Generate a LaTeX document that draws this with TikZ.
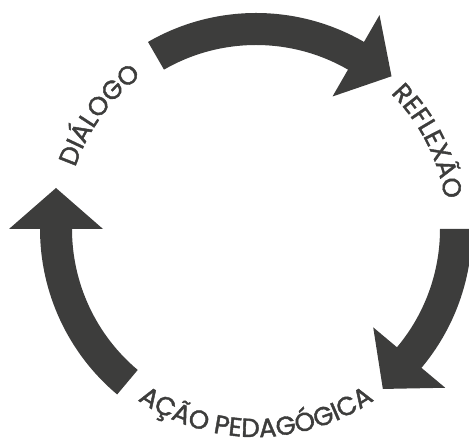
\documentclass[tikz,border=0pt]{standalone}
\usepackage{fontspec}
\newfontfamily\poppins{Poppins}[RawFeature={embolden=1.6}]
\usetikzlibrary{decorations.text,calc}
\definecolor{arrowgray}{RGB}{61,61,60}
\newcommand\lblfmt{\poppins\fontsize{26pt}{26pt}\selectfont\color{arrowgray}}
\tikzset{
  cyclearrow/.style={fill=arrowgray, draw=none},
  curvedlabel/.style={decorate, decoration={text along path, text align=center, text={#1}}}
}
\begin{document}
\begin{tikzpicture}[x=1pt,y=1pt]
\useasboundingbox (0,0) rectangle (469,443);
\clip (0,0) rectangle (469,443);
\coordinate (C) at (256,214);
% top arrow: DIALOGO -> REFLEXAO
\fill[cyclearrow] ($(C)+(120:216)$) arc[start angle=120,end angle=60,radius=216]
  -- ($(C)+(60:247)$) -- ($(C)+(60:200)+(-30:41)$) -- ($(C)+(60:153)$)
  -- ($(C)+(60:184)$) arc[start angle=60,end angle=120,radius=184] -- cycle;
% right arrow: REFLEXAO -> ACAO
\fill[cyclearrow] ($(C)+(0:216)$) arc[start angle=0,end angle=-40,radius=216]
  -- ($(C)+(-40:247)$) -- ($(C)+(-40:200)+(-130:41)$) -- ($(C)+(-40:153)$)
  -- ($(C)+(-40:184)$) arc[start angle=-40,end angle=0,radius=184] -- cycle;
% left arrow: ACAO -> DIALOGO
\fill[cyclearrow] ($(C)+(230:216)$) arc[start angle=230,end angle=180,radius=216]
  -- ($(C)+(180:247)$) -- ($(C)+(180:200)+(90:41)$) -- ($(C)+(180:153)$)
  -- ($(C)+(180:184)$) arc[start angle=180,end angle=230,radius=184] -- cycle;
% labels
\path[curvedlabel={|\lblfmt|DIÁLOGO}] ($(C)+(174:191)$) arc[start angle=174,end angle=114,radius=191];
\path[curvedlabel={|\lblfmt|REFLEXÃO}] ($(C)+(57:191)$) arc[start angle=57,end angle=-3,radius=191];
\path[curvedlabel={|\lblfmt|AÇÃO PEDAGÓGICA}] ($(C)+(200:208)$) arc[start angle=200,end angle=340,radius=208];
\end{tikzpicture}
\end{document}
